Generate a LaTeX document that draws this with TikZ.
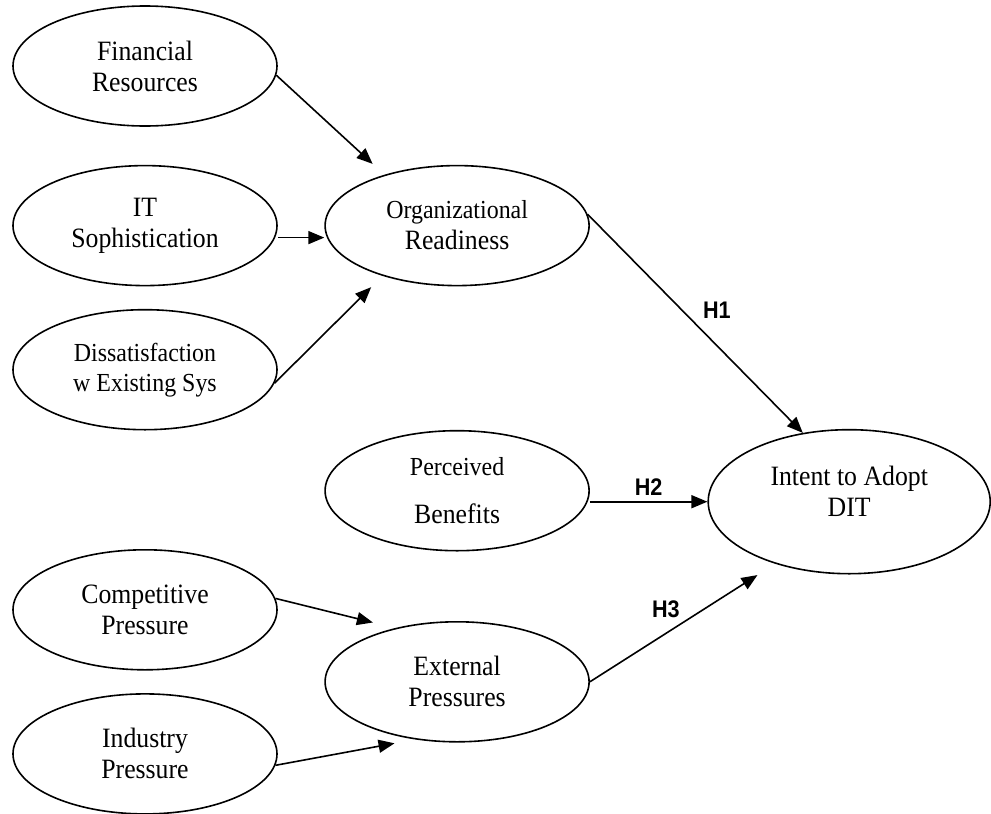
\documentclass[tikz,border=0pt]{standalone}
\usepackage{fontspec}
\setmainfont{Liberation Serif}[FakeStretch=0.92]
\newfontfamily\hypfont{Liberation Sans}[FakeStretch=0.9]
\usepackage{tikz}
\usetikzlibrary{positioning, arrows.meta, shapes.geometric}
\definecolor{inkColor}{RGB}{0, 0, 0}
\tikzset{
    construct_node/.style={
        ellipse,
        draw=inkColor,
        line width=1.6pt,
        minimum width=264pt,
        minimum height=120pt,
        inner sep=0pt,
        align=center,
        text=inkColor,
        font=\fontsize{28}{31}\selectfont
    },
    outcome_node/.style={
        construct_node,
        minimum width=282pt,
        minimum height=144pt
    },
    path_edge/.style={
        -{Triangle[length=16pt, width=13pt]},
        line width=1.6pt,
        draw=inkColor
    },
    hyp_label/.style={
        font=\hypfont\bfseries\fontsize{24}{26}\selectfont,
        inner sep=0pt,
        text=inkColor
    }
}

\begin{document}
\begin{tikzpicture}[node distance=40pt]
    \useasboundingbox (0pt,0pt) rectangle (991pt,-814pt);

    % antecedents, left column
    \node[construct_node] (fin) at (145pt,-66pt) {Financial\\Resources};
    \node[construct_node, below=38pt of fin] (itsoph) {IT\\Sophistication};
    \node[construct_node, below=22.5pt of itsoph, font=\fontsize{26}{30}\selectfont] (dissat)
        {Dissatisfaction\\w Existing Sys};
    \node[construct_node, below=118.5pt of dissat] (comp) {Competitive\\Pressure};
    \node[construct_node, below=22.5pt of comp] (indus) {Industry\\Pressure};

    % middle column
    \node[construct_node, right=46.5pt of itsoph] (orgready)
        {{\fontsize{26}{29}\selectfont Organizational}\\Readiness};
    \node[construct_node, below=143.5pt of orgready] (benefit)
        {{\fontsize{26}{29}\selectfont Perceived}\\[17pt]Benefits};
    \node[construct_node, below=69.5pt of benefit] (extpress) {External\\Pressures};

    % outcome
    \node[outcome_node, right=117.5pt of benefit, yshift=-11pt, text depth=20pt] (intent)
        {Intent to Adopt\\DIT};

    % paths into the second order constructs
    \draw[path_edge, shorten >=16pt] (fin.-4) -- (orgready.145);
    \draw[path_edge] ([yshift=-12pt]itsoph.east) -- ([yshift=-12pt]orgready.west);
    \draw[path_edge, shorten >=16pt] (dissat.-6) -- (orgready.214);
    \draw[path_edge, shorten >=23pt] (comp.5) -- (extpress.139);
    \draw[path_edge, shorten >=21pt] (indus.-5) -- (extpress.234);

    % hypotheses
    \draw[path_edge] (orgready.5) -- (intent.124)
        node[hyp_label, pos=0.44, right=20pt] {H1};
    \draw[path_edge] (benefit.east |- intent.west) -- (intent.west)
        node[hyp_label, midway, above=5pt] {H2};
    \draw[path_edge, shorten >=21pt] (extpress.east) -- (intent.220)
        node[hyp_label, pos=0.41, above=15pt] {H3};
\end{tikzpicture}
\end{document}
